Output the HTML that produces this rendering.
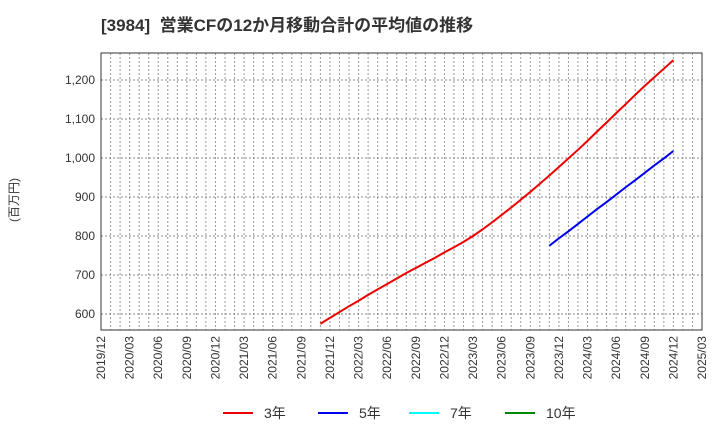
<!DOCTYPE html>
<html><head><meta charset="utf-8"><style>
body{margin:0;background:#fff;font-family:"Liberation Sans","Noto Sans CJK JP",sans-serif;}
</style></head><body>
<svg id="c" width="720" height="440" xmlns="http://www.w3.org/2000/svg" font-family="Liberation Sans, Noto Sans CJK JP, sans-serif">
<text x="101" y="31" font-size="17" font-weight="bold" fill="#333" xml:space="preserve">[3984]  営業CFの12か月移動合計の平均値の推移</text>
<text transform="translate(18,200) rotate(-90)" font-size="12" fill="#333" text-anchor="middle">(百万円)</text>
<g id="grid"></g><g id="series"></g><g id="axes"></g>
<g font-size="14" fill="#333">
<line x1="223" y1="413" x2="253" y2="413" stroke="#e00" stroke-width="2"/><text x="264" y="418">3年</text>
<line x1="318" y1="413" x2="348" y2="413" stroke="#00e" stroke-width="2"/><text x="359" y="418">5年</text>
<line x1="409" y1="413" x2="439" y2="413" stroke="#0ff" stroke-width="2"/><text x="450" y="418">7年</text>
<line x1="505" y1="413" x2="535" y2="413" stroke="#080" stroke-width="2"/><text x="546" y="418">10年</text>
</g>
</svg>
<script>
const yTicks=[600,700,800,900,1000,1100,1200];
const xLabels=["2019/12","2020/03","2020/06","2020/09","2020/12","2021/03","2021/06","2021/09","2021/12","2022/03","2022/06","2022/09","2022/12","2023/03","2023/06","2023/09","2023/12","2024/03","2024/06","2024/09","2024/12","2025/03"];
const red3Start=23; // months after 2019/12 (2021/11)
const red3=[575,590,605,620,634,649,663,677,691,705,718,731,744,758,771,785,800,817,835,854,873,893,913,934,955,977,999,1021,1044,1068,1091,1115,1138,1162,1185,1207,1229,1251];
const blue5Start=47; // 2023/11
const blue5=[775,794,812,831,850,869,887,906,925,943,962,981,999,1018];
const L=101,R=702,T=53,B=330,NM=63;
const x=m=>L+(R-L)*m/NM;
const y=v=>314-(v-600)*0.39;
const NS="http://www.w3.org/2000/svg";
function mk(t,a,p){const e=document.createElementNS(NS,t);for(const k in a)e.setAttribute(k,a[k]);p.appendChild(e);return e;}
const g=document.getElementById('grid'),ax=document.getElementById('axes'),s=document.getElementById('series');
for(let m=1;m<NM;m++){const l=mk('line',{x1:x(m),x2:x(m),y1:T,y2:B,stroke:'#999','stroke-dasharray':'2,2','stroke-width':1},g);

}
yTicks.forEach(v=>{const l=mk('line',{x1:L,x2:R,y1:y(v),y2:y(v),stroke:'#888','stroke-dasharray':'2,2','stroke-width':1},g);


const t=mk('text',{x:L-6,y:y(v)+4,'text-anchor':'end','font-size':12,fill:'#333'},ax);t.textContent=v.toLocaleString('en-US');

});
xLabels.forEach((lab,i)=>{const xx=x(i*3);const t=mk('text',{transform:`translate(${xx+4},${B+6}) rotate(-90)`,'text-anchor':'end','font-size':12,fill:'#333'},ax);t.textContent=lab;

});
const fr=mk('rect',{x:L,y:T,width:R-L,height:B-T,fill:'none',stroke:'#333','stroke-width':1},ax);


function line(data,start,color,name){const p=mk('polyline',{points:data.map((v,i)=>x(start+i)+','+y(v)).join(' '),fill:'none',stroke:color,'stroke-width':2},s);

}
line(red3,red3Start,'#e00','series-3y');
line(blue5,blue5Start,'#00e','series-5y');
</script>
</body></html>
